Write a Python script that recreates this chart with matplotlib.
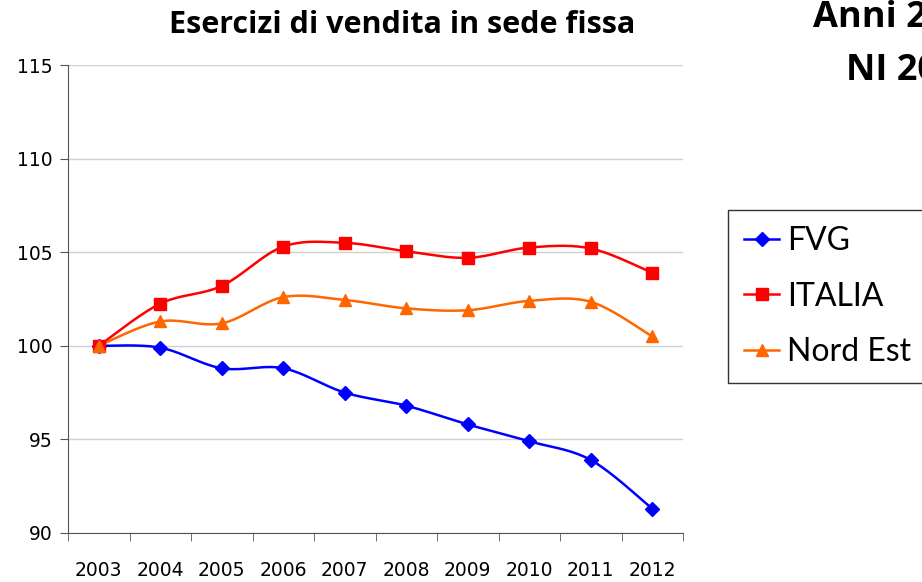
import numpy as np
import matplotlib.pyplot as plt

years = ["2003", "2004", "2005", "2006", "2007", "2008", "2009", "2010", "2011", "2012"]
fvg = [100, 99.9, 98.8, 98.8, 97.5, 96.8, 95.8, 94.9, 93.9, 91.3]
italia = [100, 102.25, 103.2, 105.3, 105.5, 105.05, 104.7, 105.25, 105.2, 103.9]
nord_est = [100, 101.3, 101.2, 102.6, 102.45, 102.0, 101.9, 102.4, 102.35, 100.5]


def smooth(y, n=20):
    # Catmull-Rom curve through the points, like Excel's smoothed line
    y = np.asarray(y, dtype=float)
    x = np.arange(len(y), dtype=float)
    px = np.concatenate([[x[0]], x, [x[-1]]])
    py = np.concatenate([[y[0]], y, [y[-1]]])
    xs, ys = [], []
    t = np.linspace(0, 1, n)
    for i in range(1, len(px) - 2):
        for p, out in ((px, xs), (py, ys)):
            p0, p1, p2, p3 = p[i - 1], p[i], p[i + 1], p[i + 2]
            out.extend(0.5 * ((2 * p1) + (-p0 + p2) * t
                              + (2 * p0 - 5 * p1 + 4 * p2 - p3) * t ** 2
                              + (-p0 + 3 * p1 - 3 * p2 + p3) * t ** 3))
    return np.array(xs), np.array(ys)


fig = plt.figure(figsize=(9.22, 5.82), dpi=100)
ax = fig.add_axes([68 / 922, 1 - 533 / 582, 615 / 922, 468 / 582])

series = [
    ("FVG", fvg, "#0000FF", "D", 7),
    ("ITALIA", italia, "#FF0000", "s", 8),
    ("Nord Est", nord_est, "#FF6600", "^", 9),
]
x = np.arange(len(years))
handles = []
for name, vals, color, marker, ms in series:
    sx, sy = smooth(vals)
    ax.plot(sx, sy, color=color, lw=1.8, zorder=3)
    ax.plot(x, vals, ls="none", marker=marker, ms=ms, color=color, zorder=4)
    handles.append(plt.Line2D([], [], color=color, lw=1.8, marker=marker, ms=ms, label=name))

ax.set_xlim(-0.5, 9.5)
ax.set_ylim(90, 115)
ax.set_yticks(range(90, 116, 5))
ax.yaxis.grid(True, color="#d0d0d0", lw=1)
ax.set_axisbelow(True)

ax.set_xticks(x)
ax.set_xticklabels(years)
ax.set_xticks(np.arange(-0.5, 10, 1), minor=True)
ax.tick_params(axis="x", which="major", length=0, pad=20, labelsize=13.5)
ax.tick_params(axis="x", which="minor", length=6, color="#555555")
ax.tick_params(axis="y", length=6, color="#555555", labelsize=13.5, pad=5)

for side in ("top", "right"):
    ax.spines[side].set_visible(False)
for side in ("left", "bottom"):
    ax.spines[side].set_color("#555555")

fig.text(402 / 922, 1 - 25 / 582, "Esercizi di vendita in sede fissa",
         ha="center", va="center", fontsize=22, fontweight="bold", family="Open Sans")
fig.text(813 / 922, 1 - 27 / 582, "Anni 2003-2012", ha="left", va="baseline",
         fontsize=26, fontweight="bold", family="Open Sans")
fig.text(846 / 922, 1 - 80 / 582, "NI 2003=100", ha="left", va="baseline",
         fontsize=26, fontweight="bold", family="Open Sans")

fig.legend(handles=handles, loc="upper left", bbox_to_anchor=(728 / 922, 1 - 210 / 582),
           frameon=True, fancybox=False, edgecolor="black",
           handlelength=1.1, handletextpad=0.25, labelspacing=0.8, borderpad=0.5,
           borderaxespad=0, prop={"family": "Lato", "size": 23})

fig.savefig("out.png", dpi=100)
